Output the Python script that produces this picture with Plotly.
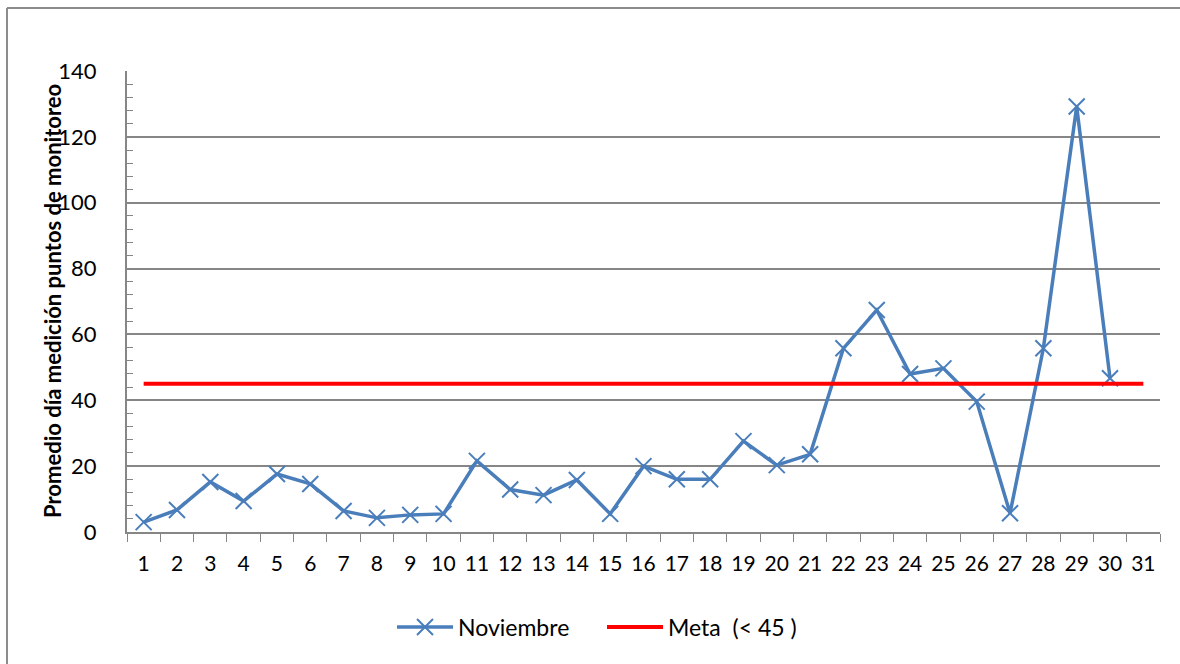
import plotly.graph_objects as go

# data
days = [str(d) for d in range(1, 32)]
noviembre = [3.0, 6.7, 15.2, 9.4, 17.6, 14.6, 6.4, 4.3, 5.2, 5.5,
             21.6, 12.9, 11.2, 15.8, 5.5, 20.0, 16.0, 16.0, 27.6, 20.3,
             23.6, 55.8, 67.4, 48.0, 49.7, 39.6, 5.7, 55.8, 129.2, 46.7]
meta = [45] * 31

W, H = 1180, 664
L, R, T, B = 127, 20, 71, 132
FONT = "Lato"

fig = go.Figure()
fig.add_trace(go.Scatter(
    x=days[:len(noviembre)], y=noviembre, mode="lines+markers",
    name="Noviembre",
    line=dict(color="#4A7EBB", width=3.5),
    marker=dict(symbol="x-thin", size=16, line=dict(color="#4A7EBB", width=2)),
))
fig.add_trace(go.Scatter(
    x=days, y=meta, mode="lines", name="Meta  (< 45 )",
    line=dict(color="#FF0000", width=4),
))

fig.update_xaxes(
    type="category", categoryorder="array", categoryarray=days,
    range=[-0.5, len(days) - 0.5],
    tickson="boundaries", ticks="outside", ticklen=8, tickcolor="#868686",
    showline=True, linecolor="#868686", linewidth=2,
    showgrid=False, tickfont=dict(size=21, color="black"), tickangle=0,
    ticklabelstandoff=12,
)
fig.update_yaxes(
    range=[0, 140], dtick=20, showgrid=True, gridcolor="#868686", gridwidth=1.5,
    showline=True, linecolor="#868686", linewidth=2, ticks="",
    minor=dict(dtick=4, ticks="inside", ticklen=6, tickcolor="#868686", showgrid=False),
    tickfont=dict(size=22, color="black"), ticklabelstandoff=24,
    zeroline=False,
)

pw = W - L - R
ph = H - T - B
# outer chart border: only its left and top edges fall inside the picture
bx = (7 - L) / pw
by = (T - 8) / ph + 1
border = dict(color="#8C8C8C", width=2)
fig.add_shape(type="line", xref="paper", yref="paper",
              x0=bx, x1=bx, y0=-(H - T - ph) / ph, y1=by, line=border)
fig.add_shape(type="line", xref="paper", yref="paper",
              x0=bx, x1=(W - L) / pw, y0=by, y1=by, line=border)

fig.add_annotation(
    text="<b>Promedio día medición puntos de monitoreo</b>",
    xref="paper", yref="paper", x=(52 - L) / pw, y=(301 - (H - B)) / -ph,
    xanchor="center", yanchor="middle",
    textangle=-90, showarrow=False, font=dict(size=22, color="black", family=FONT),
)

fig.update_layout(
    width=W, height=H,
    margin=dict(l=L, r=R, t=T, b=B),
    paper_bgcolor="white", plot_bgcolor="white",
    font=dict(family=FONT, color="black"),
    showlegend=True,
    legend=dict(orientation="h", x=(602 - L) / pw, xanchor="center",
                y=-(627 - T - ph) / ph, yanchor="middle",
                font=dict(size=23), itemwidth=56, entrywidth=139,
                traceorder="normal"),
)

fig.write_html("out.html", config={"displayModeBar": False},
               post_script="document.body.style.margin='0';"
                           "document.body.style.overflow='hidden';")
